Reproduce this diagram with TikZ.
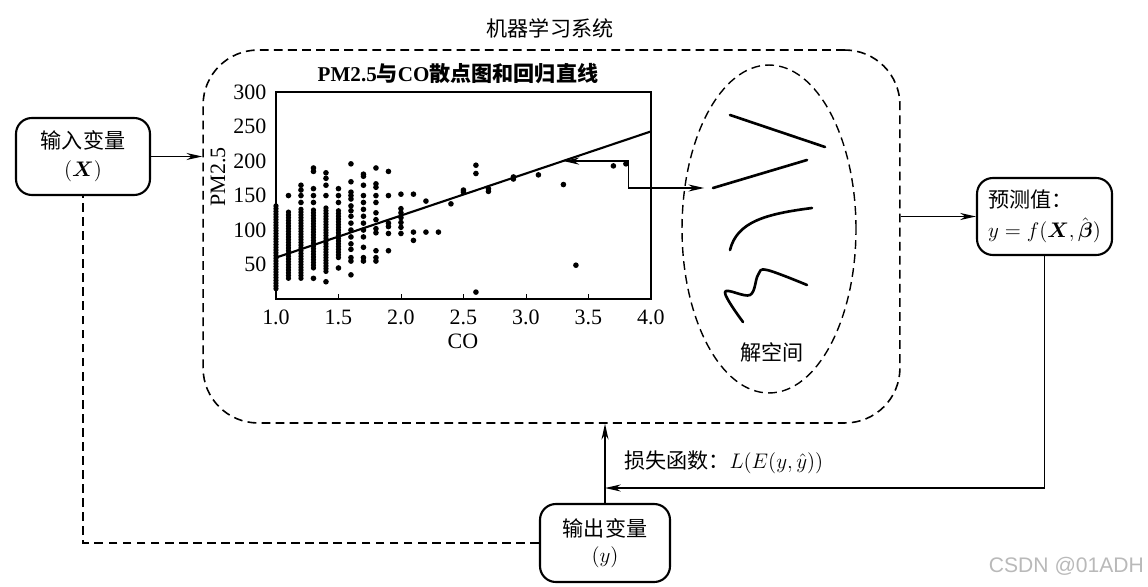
\documentclass[tikz,border=0pt]{standalone}
\usepackage{amsmath}
\usepackage{amssymb}
\usepackage{fontspec}
\setmainfont{Liberation Serif}
\newfontfamily\cjk{Noto Sans CJK SC}
\usetikzlibrary{arrows.meta,shapes.geometric,positioning}

\tikzset{
  varbox/.style={draw, line width=1.2pt, rounded corners=9pt, align=center, inner sep=2pt},
  dashline/.style={dash pattern=on 5pt off 3pt, line width=0.9pt},
  flow/.style={-{Stealth[length=9pt,width=4pt]}, line width=0.8pt},
  flowboth/.style={{Stealth[length=9pt,width=4pt]}-{Stealth[length=9pt,width=4pt]}, line width=0.8pt},
  solcurve/.style={line width=1.5pt, line cap=round, line join=round},
  dot/.style={fill=black}
}

\begin{document}
\begin{tikzpicture}[x=0.02cm,y=-0.02cm, every node/.style={font=\fontsize{12}{15}\selectfont}]
			\useasboundingbox (0,0) rectangle (1148,587);
			
			% the learning system
			\node[draw, dashline, rounded corners=1.1cm, minimum width=13.94cm, minimum height=7.46cm] (mlsys) at (551.5,236.5) {};
			\node (systitle) at (550,28) {\cjk 机器学习系统};
			
			% inputs and outputs
			\node[varbox, minimum width=2.68cm, minimum height=1.54cm] (inbox) at (83,156.5) {{\cjk 输入变量}\\[1pt]$(\boldsymbol{X})$};
			\node[varbox, align=left, minimum width=2.7cm, minimum height=1.54cm] (predbox) at (1044.5,216.5) {{\cjk 预测值：}\\[2pt]$y=f(\boldsymbol{X},\hat{\boldsymbol{\beta}})$};
			\node[varbox, minimum width=2.6cm, minimum height=1.56cm] (outbox) at (605,543) {{\cjk 输出变量}\\$(y)$};
			
			% scatter plot, CO on x, PM2.5 on y
			\begin{scope}[shift={(151,299)}, x={(2.5cm,0)}, y={(0,0.0138cm)}]
				\draw[line width=0.9pt] (1,0) rectangle (4,300);
				\foreach \c in {1.5,2,2.5,3,3.5} \draw (\c,0) -- (\c,7);
				\foreach \c [count=\i] in {1.0,1.5,2.0,2.5,3.0,3.5,4.0}
					\node[font=\fontsize{12.5}{15}\selectfont] (xtick\i) at (\c,-26) {\c};
				\foreach \v in {50,100,...,300}
					\node[anchor=east, xshift=-2pt, font=\fontsize{12.5}{15}\selectfont] (ytick\v) at (1,\v) {\v};
				\node[font=\fontsize{12.5}{15}\selectfont] (xlabel) at (2.496,-62) {CO};
				\node[rotate=90, font=\fontsize{12.5}{15}\selectfont] (ylabel) at (0.536,177) {PM2.5};
				\node (plottitle) at (2.456,327) {\bfseries PM2.5{\cjk 与}CO{\cjk 散点图和回归直线}};
				
				% dense columns
				\foreach \c/\lo/\hi in {1.0/15/135,1.1/30/128,1.2/30/130,1.3/45/130,1.4/40/135,1.5/60/130}{
					\pgfmathtruncatemacro\nxt{\lo+4}
					\foreach \v in {\lo,\nxt,...,\hi} \fill[dot] (\c,\v) circle[radius=1.5pt];
				}
				% single points
				\foreach \c/\v in {1.1/150,1.2/165,1.2/158,1.2/150,1.2/140,
					1.3/190,1.3/185,1.3/160,1.3/150,1.3/140,1.3/30,
					1.4/183,1.4/175,1.4/165,1.4/150,1.4/25,
					1.5/160,1.5/150,1.5/140,1.5/45,
					1.6/196,1.6/170,1.6/155,1.6/150,1.6/145,1.6/135,1.6/128,1.6/120,1.6/110,1.6/100,1.6/90,1.6/80,1.6/72,1.6/60,1.6/55,1.6/35,
					1.7/181,1.7/178,1.7/165,1.7/150,1.7/140,1.7/130,1.7/120,1.7/110,1.7/100,1.7/90,1.7/75,1.7/60,1.7/55,
					1.8/190,1.8/167,1.8/162,1.8/150,1.8/140,1.8/125,1.8/115,1.8/102,1.8/96,1.8/70,1.8/60,1.8/55,
					1.9/185,1.9/150,1.9/110,1.9/105,1.9/95,1.9/70,
					2.0/152,2.0/131,2.0/125,2.0/118,2.0/111,2.0/104,2.0/95,
					2.1/152,2.1/97,2.1/85,2.2/142,2.2/97,2.3/97,2.4/138,2.5/158,2.5/155,
					2.6/194,2.6/182,2.6/10,2.7/160,2.7/156,2.9/177,2.9/174,3.1/180,3.3/166,
					3.4/49,3.7/193,3.8/196}
					\fill[dot] (\c,\v) circle[radius=1.6pt];
				
				\draw[line width=1.2pt] (1,60) -- (4,243);
				\coordinate (fitpt) at (3.3,200);
			\end{scope}
			
			% solution space
			\node[draw, ellipse, dashline, line width=0.8pt, minimum width=3.48cm, minimum height=6.56cm, inner sep=0pt] (solspace) at (769,229) {};
			\coordinate (curvestart) at (713,188);
			\draw[solcurve] (730,115) -- (825,147);
			\draw[solcurve] (curvestart) -- (807,160);
			\draw[solcurve] (730,250) .. controls (737,222) and (765,214) .. (812,208);
			\draw[solcurve] plot[smooth, tension=0.6] coordinates {(743,322) (725,292) (750,295) (758,275) (767,270) (807,285)};
			\node (sollabel) at (772,352) {\cjk 解空间};
			
			\draw[flowboth, shorten >=5pt] (fitpt) -- ++(65,0) |- (curvestart);
			
			% connections
			\draw[flow] (inbox.east) -- (inbox.east -| mlsys.west);
			\draw[flow] (mlsys.east |- predbox.west) -- (predbox.west);
			\coordinate (lossin) at (outbox.north |- 0,488);
			\draw[flow] (predbox.south) |- (lossin);
			\draw[flow] (outbox.north) -- (outbox.north |- mlsys.south);
			\node[anchor=west] (losslabel) at (618,462) {{\cjk 损失函数：}$L(E(y,\hat{y}))$};
			\draw[dashline] (outbox.west) -| (inbox.south);
			
			\node[anchor=east, inner sep=1pt, text=gray!55, font=\fontsize{12}{14}\selectfont\fontspec{Liberation Sans}] (mark) at (1146,566) {CSDN @01ADH};
		\end{tikzpicture}
\end{document}
